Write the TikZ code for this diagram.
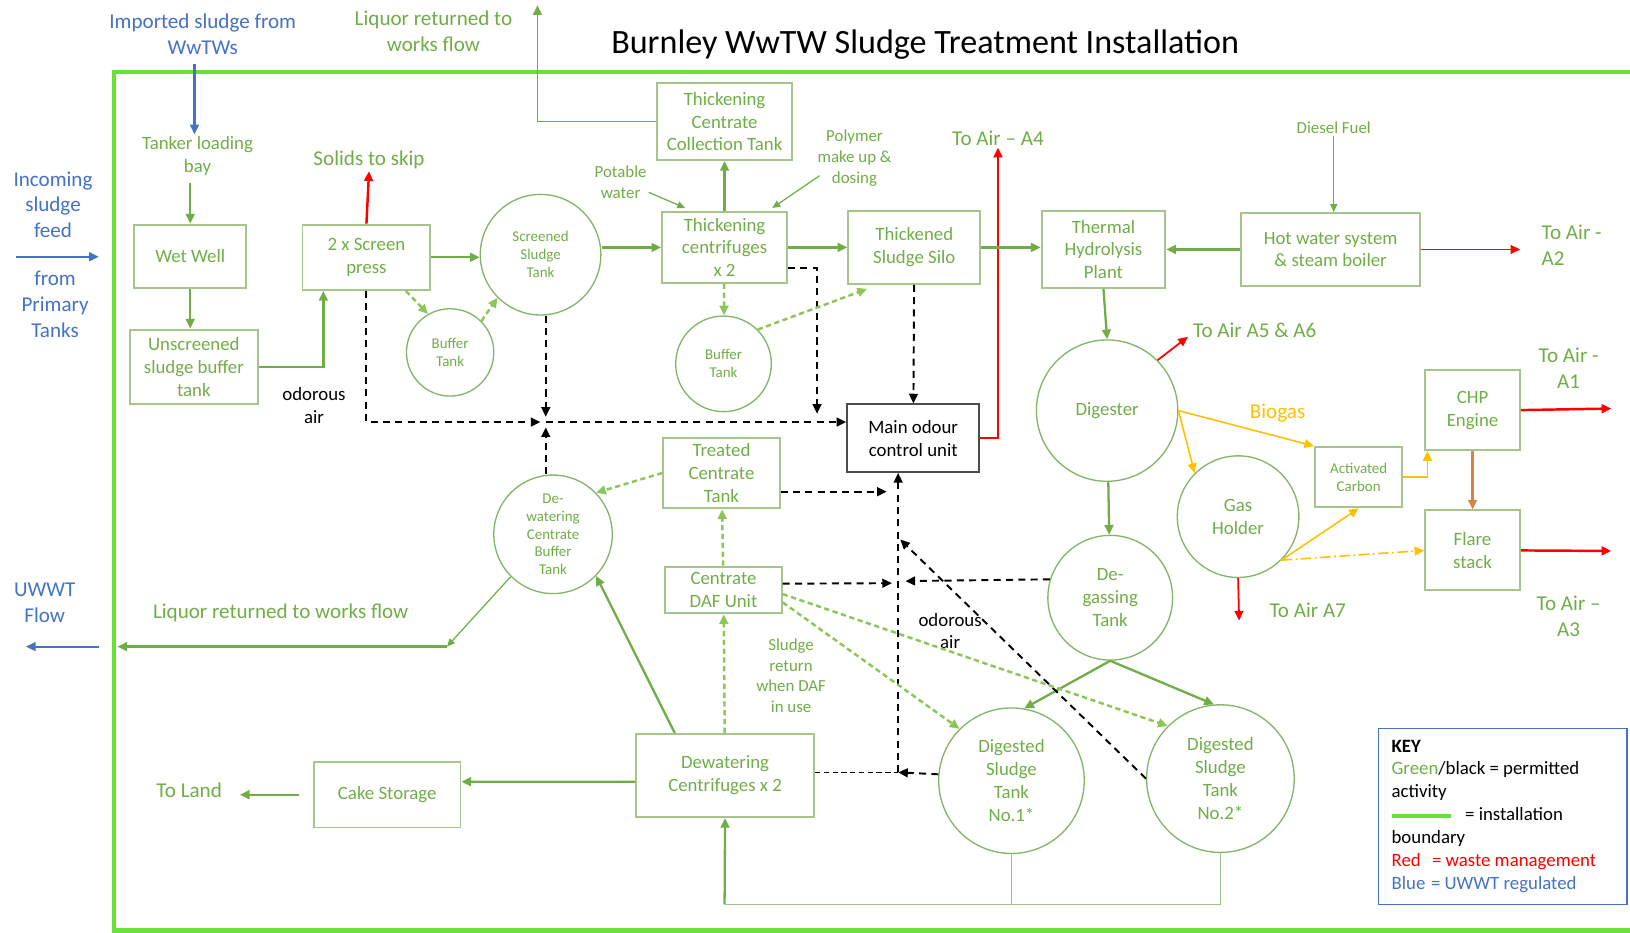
\documentclass[tikz,border=0pt]{standalone}
\usepackage{fontspec}
\setmainfont{Carlito}
\usetikzlibrary{arrows.meta,calc}
\definecolor{gtext}{RGB}{112,173,71}
\definecolor{gbox}{RGB}{168,196,142}
\definecolor{gcirc}{RGB}{132,180,104}
\definecolor{gdash}{RGB}{140,198,88}
\definecolor{gloop}{RGB}{160,192,138}
\definecolor{boundary}{RGB}{104,226,56}
\definecolor{uwwt}{RGB}{68,114,196}
\definecolor{waste}{RGB}{255,0,0}
\definecolor{biogas}{RGB}{255,192,0}
\definecolor{flarec}{RGB}{214,132,68}
\newcommand\txttitle{\fontsize{19.4}{23}\selectfont}
\newcommand\txtlabel{\fontsize{12}{14.7}\selectfont}
\newcommand\txtbox{\fontsize{10.7}{13}\selectfont}
\newcommand\txtnote{\fontsize{9.6}{11.8}\selectfont}
\newcommand\txtsmall{\fontsize{8.5}{10.2}\selectfont}
\begin{document}
\begin{tikzpicture}[
        x=0.02079cm, y=-0.02079cm,
        >={Triangle[length=5.5pt,width=5pt]},
        every node/.style={align=center, text=gtext, font=\txtbox, inner sep=1pt},
        boxsize/.style 2 args={minimum width=#1*0.02079cm, minimum height=#2*0.02079cm},
        tanksize/.style={minimum size=#1*0.02079cm},
        unitbox/.style={draw=gbox, line width=1.1pt},
        tank/.style={draw=gcirc, circle, line width=0.75pt, inner sep=0pt},
        smalltank/.style={tank, font=\txtsmall},
        lbl/.style={font=\txtlabel},
        notetext/.style={font=\txtnote},
        flow/.style={->, draw=gtext, line width=1.3pt},
        thinflow/.style={>={Triangle[length=4.5pt,width=4pt]}, ->, draw=gtext, line width=0.7pt},
        dflow/.style={->, draw=gdash, line width=1.4pt, dash pattern=on 3pt off 2pt},
        odourair/.style={->, draw=black, line width=1.1pt, dash pattern=on 4pt off 3pt},
        wastearrow/.style={->, draw=waste, line width=1.4pt},
        biogasarrow/.style={->, draw=biogas, line width=0.9pt},
        uwwtarrow/.style={->, draw=uwwt, line width=1.2pt},
    ]
    \useasboundingbox (0,0) rectangle (1568,897);
    \draw[draw=boundary, line width=2.4pt] (1580,69) -- (110,69) -- (110,895) -- (1580,895);
    \node[font=\txttitle, text=black] (title) at (890,43) {Burnley WwTW Sludge Treatment Installation};

    % outside the installation
    \node[lbl, text=uwwt] (imported) at (195,33) {Imported sludge from\\WwTWs};
    \node[lbl] (liqtop) at (417,30) {Liquor returned to\\works flow};
    \node[lbl, text=uwwt] (incoming) at (51,197) {Incoming\\sludge\\feed};
    \node[lbl, text=uwwt] (primary) at (53,293) {from\\Primary\\Tanks};
    \node[lbl, text=uwwt] (uwwtflow) at (43,580) {UWWT\\Flow};
    \coordinate (feedin) at (15,247);
    \coordinate (feedend) at (95,247);
    \coordinate (uwwtin) at (95,622);
    \coordinate (uwwtend) at (25,622);
    \coordinate (liqup) at (517,5);

    % process units
    \node[unitbox, boxsize={108}{61}] (wetwell) at (183,246.5) {Wet Well};
    \node[unitbox, boxsize={123}{72}] (unscr) at (186.5,353) {Unscreened\\sludge buffer\\tank};
    \node[unitbox, boxsize={123}{63}] (screen) at (352.5,247.5) {2 x Screen\\press};
    \node[unitbox, boxsize={130}{74}] (tcct) at (697,117) {Thickening\\Centrate\\Collection Tank};
    \node[unitbox, boxsize={120}{68}] (thcent) at (697,238) {Thickening\\centrifuges\\x 2};
    \node[unitbox, boxsize={127}{70}] (silo) at (879.5,238) {Thickened\\Sludge Silo};
    \node[unitbox, draw=black!70, text=black, boxsize={127}{65}] (odour) at (878.5,421.5) {Main odour\\control unit};
    \node[unitbox, boxsize={119}{74}] (thp) at (1061.5,240) {Thermal\\Hydrolysis\\Plant};
    \node[unitbox, boxsize={172}{70}] (boiler) at (1280,240) {Hot water system\\\& steam boiler};
    \node[unitbox, font=\txtsmall, boxsize={84}{58}] (actc) at (1307,459) {Activated\\Carbon};
    \node[unitbox, boxsize={91}{77}] (chp) at (1416.5,394.5) {CHP\\Engine};
    \node[unitbox, boxsize={91}{77}] (flare) at (1416.5,529.5) {Flare\\stack};
    \node[unitbox, boxsize={112}{68}] (tct) at (694,455) {Treated\\Centrate\\Tank};
    \node[unitbox, boxsize={112}{45}] (daf) at (696,567.5) {Centrate\\DAF Unit};
    \node[unitbox, boxsize={171}{80}] (dewc) at (697.5,746) {Dewatering\\Centrifuges x 2};
    \node[unitbox, boxsize={141}{63}] (cake) at (372.5,764.5) {Cake Storage};

    % tanks
    \node[smalltank, tanksize=116] (sst) at (520,245) {Screened\\Sludge\\Tank};
    \node[smalltank, tanksize=84] (buf1) at (433,339) {Buffer\\Tank};
    \node[smalltank, tanksize=92] (buf2) at (696,350) {Buffer\\Tank};
    \node[smalltank, tanksize=114] (dcbt) at (532,514) {De-\\watering\\Centrate\\Buffer\\Tank};
    \node[tank, tanksize=136] (digester) at (1065,395) {Digester};
    \node[tank, tanksize=117] (gash) at (1191,497) {Gas\\Holder};
    \node[tank, tanksize=120] (degas) at (1068,575) {De-\\gassing\\Tank};
    \node[tank, tanksize=140] (dst1) at (973,751) {Digested\\Sludge\\Tank\\No.1*};
    \node[tank, tanksize=142] (dst2) at (1174,749) {Digested\\Sludge\\Tank\\No.2*};

    % labels
    \node (tanker) at (190,150) {Tanker loading\\bay};
    \node[text=black] (odair1) at (302,390) {odorous\\air};
    \node[text=black] (odair2) at (914,607) {odorous\\air};
    \node[lbl] (skip) at (355,154) {Solids to skip};
    \node[notetext] (potable) at (597,175) {Potable\\water};
    \node[notetext] (polymer) at (822,152) {Polymer\\make up \&\\dosing};
    \node[lbl] (toa4) at (960,133) {To Air – A4};
    \node[notetext] (diesel) at (1283,123) {Diesel Fuel};
    \node[lbl, align=left, anchor=west] (toa2) at (1481,236) {To Air -\\A2};
    \node[lbl] (toa56) at (1207,318) {To Air A5 \& A6};
    \node[lbl, text=biogas] (biogasl) at (1229,397) {Biogas};
    \node[lbl] (toa1) at (1509,354) {To Air -\\A1};
    \node[lbl] (toa3) at (1509,593) {To Air –\\A3};
    \node[lbl] (toa7) at (1258,587) {To Air A7};
    \node[lbl] (liqbot) at (270,590) {Liquor returned to works flow};
    \node[notetext] (dafret) at (761,650) {Sludge\\return\\when DAF\\in use};
    \node[lbl] (toland) at (182,760) {To Land};

    \coordinate (j1) at (525,406);
    \coordinate (jc) at (786,398);
    \coordinate (jv) at (864,743);
    \coordinate (j3) at (871,559);
    \coordinate (j4) at (866,519);
    \coordinate (j5) at (853,473);
    \coordinate (j6) at (858,561);
    \coordinate (liqL) at (430,622);
    \coordinate (liqB) at (113,622);
    \coordinate (ret) at (697,870);
    \coordinate (a1) at (1550,393);
    \coordinate (a3) at (1550,530);
    \coordinate (a7) at (1192,597);

    % connectors
    \draw[uwwtarrow] (feedin) -- (feedend);
    \draw[uwwtarrow] (uwwtin) -- (uwwtend);
    \draw[uwwtarrow, shorten <=4pt] ([xshift=-4.7pt]imported.south) -- ([xshift=-4.7pt]imported.south |- tanker.north);
    \draw[flow, shorten <=3pt] (tanker.south -| wetwell.north) -- (wetwell.north);
    \draw[flow] (wetwell.south) -- (wetwell.south |- unscr.north);
    \draw[flow] (unscr.east) -| ($(screen.south west)+(21,0)$);
    \draw[wastearrow] (screen.north) -- (skip.south);
    \draw[flow] (screen.east) -- (screen.east -| sst.west);
    \draw[dflow] ($(screen.south)+(38,0)$) -- (buf1.120);
    \draw[dflow] (buf1.45) -- (sst.225);
    \draw[flow] (sst.east |- thcent.west) -- (thcent.west);
    \draw[flow] (thcent) -- (tcct);
    \draw[flow, line width=0.9pt] (tcct.west) -| (liqup);
    \draw[thinflow] ($(potable.east)+(0,10)$) -- ($(thcent.north west)+(23,-3)$);
    \draw[thinflow] ($(polymer.south west)+(4,-12)$) -- ($(thcent.north east)+(-15,-3)$);
    \draw[flow] (thcent) -- (silo);
    \draw[odourair] ($(thcent.east)+(0,20)$) -| (jc);
    \draw[dflow] (thcent) -- (buf2);
    \draw[dflow] (buf2.45) -- ($(silo.south west)+(19,4)$);
    \draw[odourair] (silo) -- (odour);
    \draw[wastearrow] (odour.east) -| (toa4.south);
    \draw[flow] (silo.east) -- (silo.east -| thp.west);
    \draw[flow] (boiler) -- (thp);
    \draw[thinflow] (diesel.south) -- (diesel.south |- boiler.north);
    \draw[wastearrow, line width=0.9pt, shorten >=11pt] (boiler.east) -- (boiler.east -| toa2.west);
    \draw[flow] (thp.south) -- (digester.north);
    \draw[wastearrow, line width=1pt] (digester.45) -- ($(toa56.west)+(-3,6)$);
    \draw[biogasarrow] (digester.east) -- (actc.north west);
    \draw[biogasarrow] (digester.east) -- (gash.135);
    \draw[biogasarrow] (actc.east) -| ($(chp.south west)+(3,0)$);
    \draw[->, draw=flarec, line width=1.3pt] (chp) -- (flare);
    \draw[wastearrow] (chp.east) -- (a1);
    \draw[wastearrow] (flare.east) -- (a3);
    \draw[biogasarrow] (gash.-45) -- (actc.south);
    \draw[biogasarrow, dash pattern=on 6pt off 2pt on 1pt off 2pt] (gash.-45) -- (flare.west);
    \draw[wastearrow, line width=1pt] (gash.south) -- (a7);
    \draw[flow] (digester) -- (degas);
    \draw[odourair] (degas.163) -- (j3);
    \draw[flow] (degas.south) -- (dst1.80);
    \draw[flow] (degas.south) -- (dst2.95);
    \draw[odourair] (dst2.west) -- (j4);
    \draw[odourair] (jv) -- (jv |- odour.south);
    \draw[odourair] (dst1.175) -- (jv);
    \draw[draw=black, line width=0.8pt, dash pattern=on 3pt off 2pt] ($(dewc.east)+(0,-3)$) -- (jv);
    \draw[odourair] ($(tct.east)+(0,18)$) -- (j5);
    \draw[dflow] (tct.west) -- (dcbt.44);
    \draw[odourair, shorten >=3pt] (dcbt.north -| j1) -- (j1);
    \draw[odourair, shorten >=3pt] (sst.south -| j1) -- (j1);
    \draw[odourair, shorten >=3pt] (screen.south) |- (j1);
    \draw[odourair] (j1) -- (j1 -| odour.west);
    \draw[thinflow] (dcbt.225) -- (liqL);
    \draw[flow] (liqL) -- (liqB);
    \draw[flow] ($(dewc.north west)+(38,0)$) -- (dcbt.-44);
    \draw[dflow] (dewc) -- (daf);
    \draw[dflow] (daf) -- (tct);
    \draw[odourair] ($(daf.east)+(0,-6)$) -- (j6);
    \draw[dflow] ($(daf.east)+(0,4)$) -- (dst2.135);
    \draw[dflow] ($(daf.east)+(0,12)$) -- (dst1.135);
    \draw[flow] ([yshift=-3.5pt]dewc.west) -- ([yshift=7.4pt]cake.east);
    \draw[flow, shorten <=8pt, shorten >=9pt] (cake.west) -- (cake.west -| toland.east);
    \draw[draw=gloop, line width=1pt] (dst1.south) -- (dst1.south |- ret);
    \draw[draw=gloop, line width=1pt] (dst2.south) |- (ret);
    \draw[flow] (ret) -- (dewc.south);

    % key
    \node[draw=uwwt, line width=0.8pt, boxsize={239}{169}] (key) at (1445.5,785.5) {};
    \node[anchor=north west, align=left, text=black, inner sep=0pt] (keytext) at ($(key.north west)+(13,11)$)
        {\textbf{KEY}\\
         \textcolor{gtext}{Green}/black = permitted\\
         activity\\
         \textcolor{boundary}{\rule[1.5pt]{1.19cm}{2.4pt}}\hspace{0.28cm}= installation\\
         boundary\\
         \textcolor{waste}{Red\hspace{0.6em}= waste management}\\
         \textcolor{uwwt}{Blue\hspace{0.3em}= UWWT regulated}};
\end{tikzpicture}
\end{document}
